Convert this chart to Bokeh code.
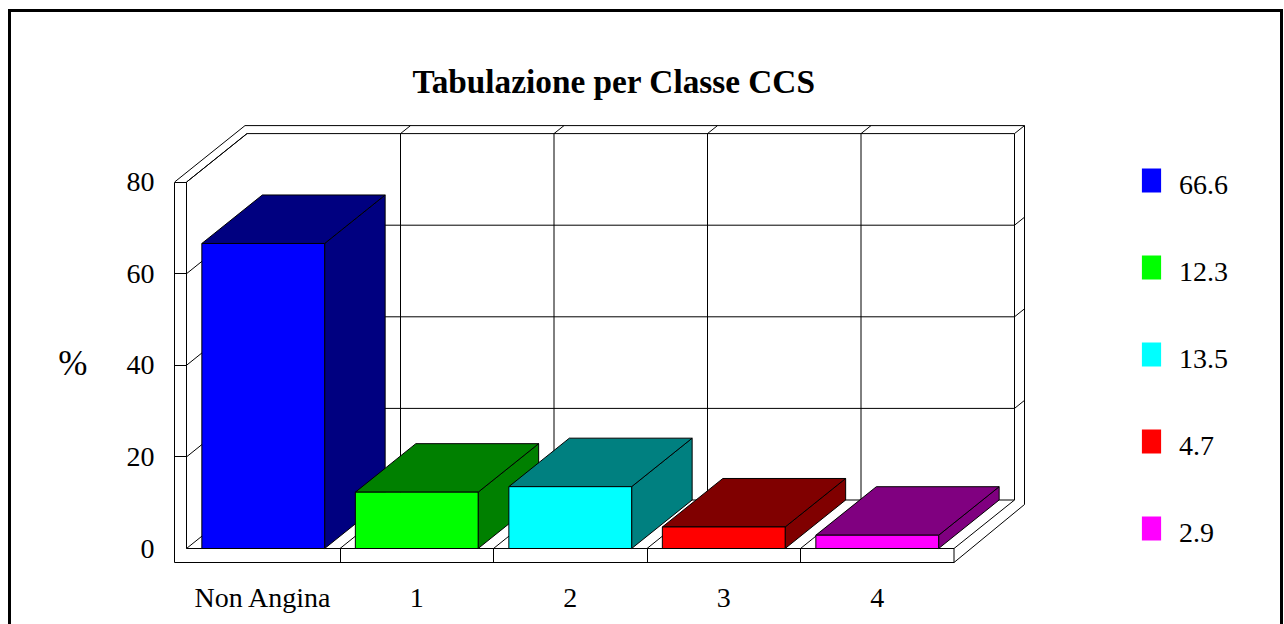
from bokeh.embed import file_html
from bokeh.resources import INLINE
from bokeh.plotting import figure
from bokeh.models import (Range1d, FixedTicker, LinearAxis, Title, Legend, LegendItem,
                          InlineStyleSheet)

categories = ["Non Angina", "1", "2", "3", "4"]
values = [66.6, 12.3, 13.5, 4.7, 2.9]
front_colors = ["#0000ff", "#00ff00", "#00ffff", "#ff0000", "#ff00ff"]
shade_colors = ["#000080", "#008000", "#008080", "#800000", "#800080"]
y_ticks = [0, 20, 40, 60, 80]
title_text = "Tabulazione per Classe CCS"
y_label = "%"

FONT = "Liberation Serif"
W, H = 1284, 624
LEFT, RIGHT, TOP, BOTTOM = 174, 0, 118, 62

# pixel scale of the front plane (page pixels)
X0, CW = 186.0, 153.5
Y0, UNIT = 548.0, 4.58
to_c = lambda px: (px - X0) / CW
to_v = lambda py: (Y0 - py) / UNIT

p = figure(width=W, height=H, output_backend="svg", toolbar_location=None,
           x_range=Range1d(to_c(174), to_c(1284)), y_range=Range1d(to_v(562), to_v(118)),
           x_axis_type=None, y_axis_type=None,
           min_border_left=LEFT, min_border_right=RIGHT, min_border_top=TOP, min_border_bottom=BOTTOM)
p.grid.visible = False
p.outline_line_color = None
p.background_fill_color = "white"
p.border_fill_color = "white"

n = len(categories)
DX = 60.5 / CW          # depth of the box along x, in categories
DY = 48.5 / UNIT        # depth of the box along y, in value units
vmax = y_ticks[-1]
c_left, c_right = to_c(174), float(n)       # outer floor edge
v_floor = to_v(562)

# walls
xs, ys = [], []
xs.append([0, n]); ys.append([0, 0])
xs.append([0, 0]); ys.append([0, vmax])
xs.append([0, DX]); ys.append([vmax, vmax + DY])
xs.append([DX, n + DX]); ys.append([vmax + DY, vmax + DY])
xs.append([n + DX, n + DX]); ys.append([DY, vmax + DY])
xs.append([DX, n + DX]); ys.append([DY, DY])
xs.append([n, n + DX]); ys.append([0, DY])
xs.append([n, n]); ys.append([0, v_floor])
# outer shell
ox = 10 / CW
oy = 8 / UNIT
xs.append([c_left, DX - 2 / CW]); ys.append([vmax, vmax + DY + oy])
xs.append([DX - 2 / CW, n + DX + ox]); ys.append([vmax + DY + oy, vmax + DY + oy])
xs.append([n + DX + ox, n + DX + ox]); ys.append([to_v(504), vmax + DY + oy])
xs.append([n, n + DX + ox]); ys.append([v_floor, to_v(504)])
xs.append([n + DX, n + DX + ox]); ys.append([vmax + DY, vmax + DY + oy])
# gridlines on left wall, back wall and right wall
for t in y_ticks:
    xs.append([0, DX]); ys.append([t, t + DY])
    if 0 < t < vmax:
        xs.append([DX, n + DX]); ys.append([t + DY, t + DY])
        xs.append([n + DX, n + DX + ox]); ys.append([t + DY, t + DY + oy])
# category separators on floor and back wall
for i in range(1, n):
    xs.append([i, i + DX]); ys.append([0, DY])
    xs.append([i + DX, i + DX]); ys.append([DY, vmax + DY])
    xs.append([i + DX, i + DX + ox]); ys.append([vmax + DY, vmax + DY + oy])
p.multi_line(xs, ys, line_color="black", line_width=1)

# bars
swatches, texts = [], []
for i, (v, fc, sc) in enumerate(zip(values, front_colors, shade_colors)):
    a, b = i + 0.1, i + 0.9
    p.patch([b, b + DX, b + DX, b], [0, DY, v + DY, v], fill_color=sc, line_color="black", line_width=1)
    p.patch([a, b, b + DX, a + DX], [v, v, v + DY, v + DY], fill_color=sc, line_color="black", line_width=1)
    r = p.quad(left=a, right=b, bottom=0, top=v, fill_color=fc, line_color=None)
    p.quad(left=a, right=b, bottom=0, top=v, fill_color=None, line_color="black", line_width=1)
    swatches.append(LegendItem(label="", renderers=[r]))
    texts.append(LegendItem(label=f"{v}", renderers=[p.quad(left=a, right=b, bottom=0, top=v, fill_color=None, line_color=None)]))

# axes
yax = LinearAxis(ticker=FixedTicker(ticks=y_ticks, minor_ticks=y_ticks[1:]), bounds=(v_floor, vmax))
yax.axis_line_color = "black"
yax.major_tick_in = 0
yax.major_tick_out = 0
yax.minor_tick_in = 12
yax.minor_tick_out = 0
yax.minor_tick_line_color = "black"
yax.major_label_standoff = 20
yax.major_label_text_font = FONT
yax.major_label_text_font_size = "28px"
yax.major_label_text_color = "black"
yax.axis_label = "\n" + y_label
yax.axis_label_orientation = "horizontal"
yax.axis_label_text_font = FONT
yax.axis_label_text_font_style = "normal"
yax.axis_label_text_font_size = "35px"
yax.axis_label_text_color = "black"
yax.axis_label_text_line_height = 1.2
yax.axis_label_standoff = 36
p.add_layout(yax, "left")

xax = LinearAxis(ticker=FixedTicker(ticks=[i + 0.5 for i in range(n)], minor_ticks=list(range(1, n))),
                 bounds=(c_left, c_right))
xax.major_label_overrides = {i + 0.5: c for i, c in enumerate(categories)}
xax.axis_line_color = "black"
xax.major_tick_in = 0
xax.major_tick_out = 0
xax.minor_tick_in = 14
xax.minor_tick_out = 0
xax.minor_tick_line_color = "black"
xax.major_label_standoff = 19
xax.major_label_text_font = FONT
xax.major_label_text_font_size = "28px"
xax.major_label_text_color = "black"
p.add_layout(xax, "below")

# title
t = Title(text=title_text, text_font=FONT, text_font_size="33.3px", text_font_style="bold",
          text_color="black", align="left", offset=238, standoff=38)
p.add_layout(t, "above")

# legend: the swatches sit a little above their texts, as in the picture
common = dict(orientation="vertical", padding=0, margin=0, border_line_color=None,
              background_fill_color=None, glyph_width=24, glyph_height=30, label_height=40,
              spacing=47, label_standoff=16, label_text_font=FONT, label_text_font_size="28px",
              label_text_color="black")
p.add_layout(Legend(items=swatches, location=(965, 14), label_width=60, **common), "center")
p.add_layout(Legend(items=texts, location=(965, 9), label_width=60, **common), "center")

# outer frame of the picture, open at the bottom edge
p.stylesheets = [InlineStyleSheet(css=":host::after{content:'';position:absolute;left:8px;top:9px;"
                                      "width:1275px;height:615px;box-sizing:border-box;"
                                      "border:3px solid #000;border-bottom:none;pointer-events:none}")]

open("out.html", "w").write(file_html(p, INLINE))
